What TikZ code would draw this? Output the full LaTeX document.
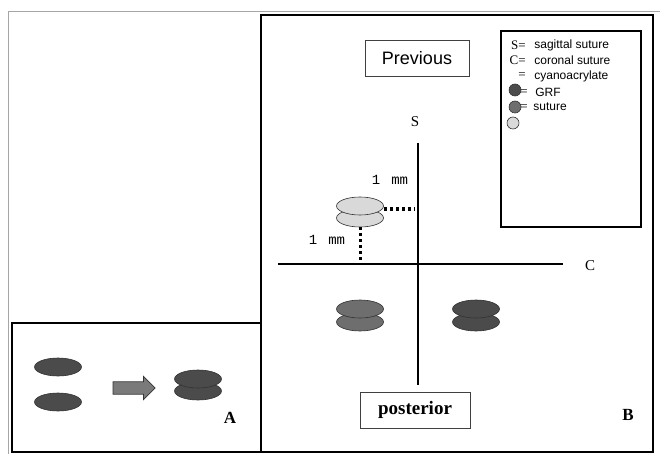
\documentclass[tikz,border=0pt]{standalone}
\usepackage{fontspec}
\setmainfont{Liberation Serif}
\setsansfont{Liberation Sans}
\setmonofont{Liberation Mono}
\usetikzlibrary{shapes, shapes.geometric, shapes.arrows, positioning, calc}

\definecolor{grfgray}{HTML}{4B4B4B}
\definecolor{suturegray}{HTML}{6E6E6E}
\definecolor{cyanogray}{HTML}{D9D9D9}

\begin{document}
\begin{tikzpicture}[
    x=1pt, y=-1pt,
    line width=0.75pt,
    every node/.style={inner sep=2pt},
    frame/.style={draw=black, line width=1.6pt},
    disc/.style={draw=black!80, ellipse, minimum width=47pt, minimum height=18pt,
                 inner sep=0pt, line width=0.6pt},
    grf/.style={disc, fill=grfgray},
    sut/.style={disc, fill=suturegray},
    cyano/.style={disc, fill=cyanogray},
    dot/.style={draw=black!80, circle, minimum size=12pt, inner sep=0pt, line width=0.6pt},
    titlebox/.style={draw=black!75, line width=0.9pt, minimum width=104pt, minimum height=36pt,
                     inner sep=0pt},
    axis/.style={line width=1.2pt},
    gap/.style={line width=3pt, dash pattern=on 3pt off 3pt},
    legtxt/.style={font=\sffamily\fontsize{12}{13}\selectfont, anchor=west, inner sep=0pt},
    legsym/.style={font=\fontsize{13}{13}\selectfont, anchor=east, inner sep=0pt},
    lbl/.style={font=\bfseries\fontsize{17}{17}\selectfont},
    mmlbl/.style={font=\ttfamily\fontsize{14}{14}\selectfont},
    axlbl/.style={font=\fontsize{15}{15}\selectfont}
]
\useasboundingbox (0,0) rectangle (660,454);

% ================= Frames =================
\draw[gray!70, line width=0.8pt] (8,454) -- (8,11) -- (660,11);
\draw[frame] (12,323) rectangle (261,452);
\draw[frame] (261,15) rectangle (653,452);

% ================= Panel A =================
\node[grf] (grfA1) at (58,367) {};
\node[grf] (grfA2) at (58,402) {};
\node[single arrow, draw=black!80, fill=black!52, minimum height=42pt,
      single arrow head extend=5.5pt, inner xsep=0pt, inner ysep=5.8pt] (merge) at (131,388) {};
\node[grf] (grfAlow) at (198,391) {};
\node[grf] (grfAup) at (198,379) {};
\node[lbl] (labA) at (230,418) {A};

% ================= Panel B =================
\node[titlebox, font=\sffamily\fontsize{18}{18}\selectfont] (prev) at (417,58) {Previous};
\node[titlebox, minimum width=110pt, font=\bfseries\fontsize{19}{19}\selectfont] (post) at (415,410) {posterior};

% Axes (sagittal / coronal)
\coordinate (sTop) at (418,143);
\coordinate (sBot) at (418,385);
\coordinate (cLeft) at (278,264);
\coordinate (cRight) at (563,264);
\draw[axis] (sTop) -- (sBot);
\draw[axis] (cLeft) -- (cRight);
\node[axlbl] (sLbl) at (415,122) {S};
\node[axlbl] (cLbl) at (590,266) {C};

% Cyanoacrylate pair with 1 mm gaps
\node[cyano] (cyanoLow) at (360,218) {};
\node[cyano] (cyanoUp) at (360,206) {};
\coordinate (gapA) at ([yshift=-3pt]cyanoUp.east);
\draw[gap, shorten >=3pt] (gapA) -- (gapA -| sTop);
\draw[gap] (cyanoLow.south) -- (cyanoLow.south |- cLeft);
\node[mmlbl] (mmUp) at (390,180) {1\hspace{11pt}mm};
\node[mmlbl] (mmLow) at (327,240) {1\hspace{11pt}mm};

% Suture pair and GRF pair
\node[sut] (sutLow) at (360,322) {};
\node[sut] (sutUp) at (360,309) {};
\node[grf] (grfLow) at (476,322) {};
\node[grf] (grfUp) at (476,309) {};

\node[lbl] (labB) at (628,415) {B};

% ================= Legend =================
\draw[frame, line width=1.4pt] (501,31) rectangle (641,227);
\node[legsym] (symS) at (526,45) {S=};
\node[legtxt] (legS) at (534,45) {sagittal suture};
\node[legsym] (symC) at (526,60) {C=};
\node[legtxt] (legC) at (534,60) {coronal suture};
\node[legsym] (symCy) at (526,76) {=};
\node[legtxt] (legCy) at (534,76) {cyanoacrylate};
\node[dot, fill=grfgray] (dotGrf) at (515,90) {};
\node[legsym] (symGrf) at (528,93) {=};
\node[legtxt] (legGrf) at (535,92) {GRF};
\node[dot, fill=suturegray] (dotSut) at (515,107) {};
\node[legsym] (symSut) at (528,108) {=};
\node[legtxt] (legSut) at (533,107) {suture};
\node[dot, fill=cyanogray] (dotCy) at (513,123) {};

\end{tikzpicture}
\end{document}
